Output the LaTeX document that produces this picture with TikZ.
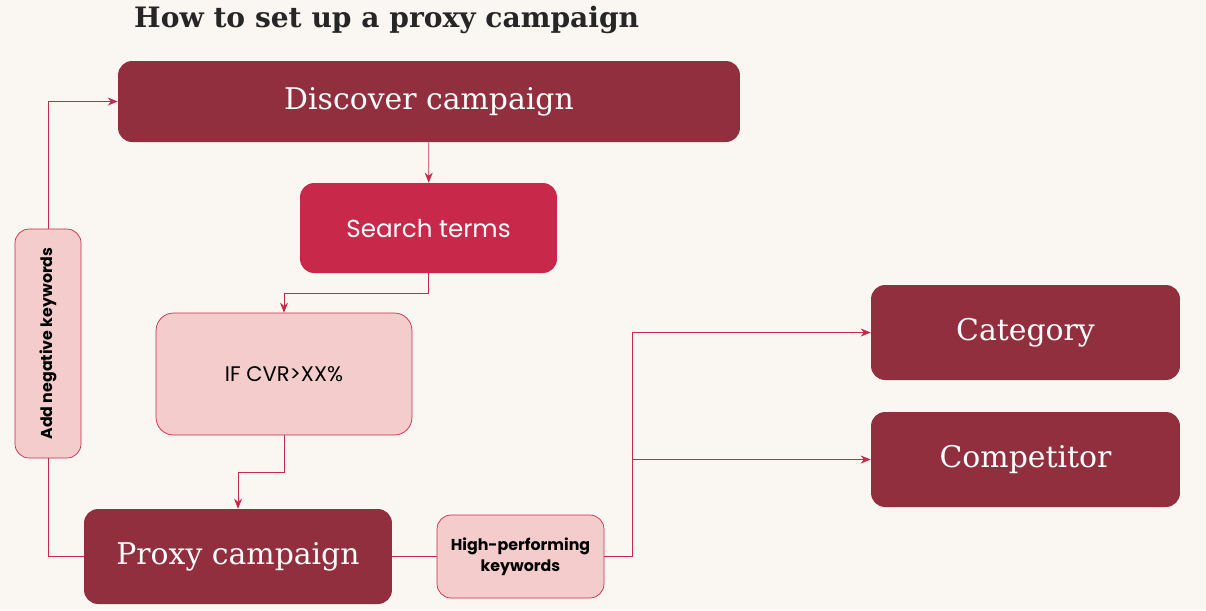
\documentclass[tikz,border=0pt]{standalone}
\usepackage{fontspec}
\setmainfont{DejaVu Serif}
\newfontfamily\labelfont{Poppins}
\usetikzlibrary{arrows.meta, positioning, calc}
\definecolor{darkred}{HTML}{922F3E}
\definecolor{brightred}{HTML}{C8294A}
\definecolor{palered}{HTML}{F4CCCC}
\definecolor{paper}{HTML}{FAF6F1}
\begin{document}
\begin{tikzpicture}[
    x=0.02cm, y=-0.02cm,
    darkbox/.style={rectangle, fill=darkred, rounded corners=8pt, text=white, align=center, font=\fontsize{17}{20}\selectfont},
    redbox/.style={rectangle, fill=brightred, rounded corners=8pt, text=white, align=center, font=\labelfont\fontsize{14}{17}\selectfont},
    palebox/.style={rectangle, fill=palered, draw=brightred, rounded corners=10pt, align=center},
    arrow/.style={-{Stealth[length=2mm, width=1.6mm]}, draw=brightred, thin},
    link/.style={draw=brightred, thin}
]
\fill[paper] (0,0) rectangle (1206,610);
\useasboundingbox (0,0) rectangle (1206,610);

% title
\node[anchor=west, font=\bfseries\fontsize{16}{19}\selectfont, text=black!85] (title) at (128,20) {How to set up a proxy campaign};

% main flow
\node[darkbox, minimum width=12.44cm, minimum height=1.62cm] (discover) at (429,101.5) {Discover campaign};
\node[redbox, minimum width=5.14cm, minimum height=1.8cm] (search) at (428.5,228) {Search terms};
\node[palebox, minimum width=5.12cm, minimum height=2.44cm, font=\labelfont\fontsize{12}{14}\selectfont] (cvr) at (284,374) {IF CVR>XX\%};
\node[darkbox, minimum width=6.16cm, minimum height=1.9cm] (proxy) at (238,556.5) {Proxy campaign};
\node[palebox, minimum width=3.34cm, minimum height=1.66cm, rounded corners=8pt, font=\labelfont\bfseries\fontsize{9}{12}\selectfont] (highperf) at (520.5,556.5) {High-performing\\keywords};
\node[palebox, minimum width=1.32cm, minimum height=4.58cm, rounded corners=8pt] (negative) at (48,343.5) {};
\node[rotate=90, font=\labelfont\bfseries\fontsize{9}{11}\selectfont] (neglabel) at (negative) {Add negative keywords};

% targets
\node[darkbox, minimum width=6.18cm, minimum height=1.9cm] (category) at (1025.5,332.5) {Category};
\node[darkbox, minimum width=6.18cm, minimum height=1.9cm] (competitor) at (1025.5,459.5) {Competitor};

% connectors
\draw[arrow] (discover) -- (search);
\draw[arrow] (search.south) -- ++(0,20) -| (cvr.north);
\draw[arrow] (cvr.south) -- ++(0,37) -| (proxy.north);
\draw[link] (proxy.west) -| (negative.south);
\draw[arrow] (negative.north) |- (discover.west);
\draw[link] (proxy) -- (highperf);
\coordinate (split) at (632,459.5);
\draw[arrow] (highperf.east) -| (split) |- (category.west);
\draw[arrow] (split) -- (competitor.west);
\end{tikzpicture}
\end{document}
